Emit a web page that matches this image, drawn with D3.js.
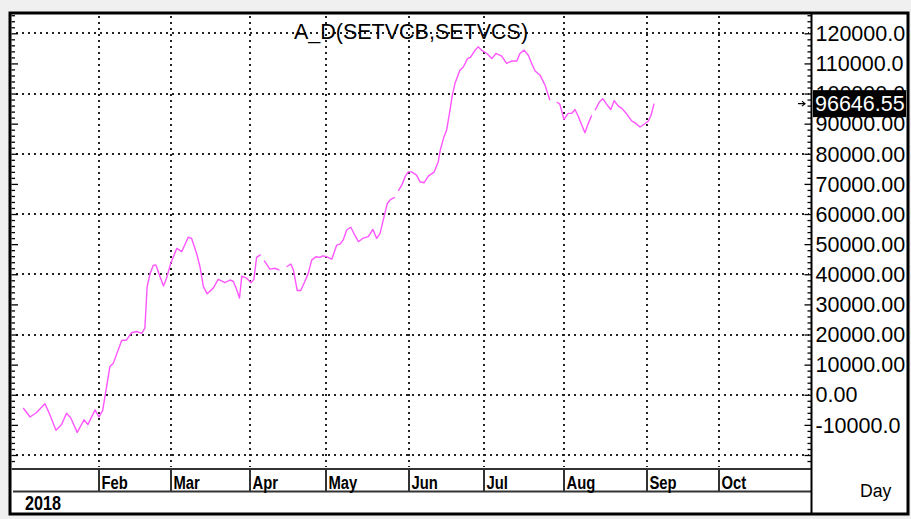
<!DOCTYPE html>
<html><head><meta charset="utf-8">
<script src="https://cdn.jsdelivr.net/npm/d3@7"></script>
<style>
html,body{margin:0;padding:0;background:#f0f0f0;}
svg{display:block;font-family:"Liberation Sans",Arial,sans-serif;}
</style></head><body>
<svg id="chart" width="911" height="519"></svg>
<script>
// ---------- data ----------
const chartTitle = "A_D(SETVCB,SETVCS)";
// trading-session index (from first visible session) and A/D values; null = gap in the line
const sessions = [2.7,4.5,6.2,8.4,9.7,11.3,12.8,14.1,15.2,16.9,18.7,19.7,21.6,22.6,23.6,24.5,25.5,26.4,28.6,29.9,
  31.2,32.6,33.9,34.7,35.3,36.1,36.9,37.6,38.7,39.6,40.4,41.5,43.1,44.4,46.1,47.0,48.3,49.2,50.1,51.1,
  52.7,54.0,55.8,57.1,58.0,58.9,59.6,60.2,61.5,62.6,63.4,64.1,65.2,65.6,66.1,67.6,68.9,70.1,71.0,72.0,
  73.1,73.8,74.8,75.7,76.8,77.7,78.6,79.7,80.8,81.5,82.6,83.9,85.2,86.1,86.9,87.8,88.9,89.7,90.9,92.0,
  93.5,94.7,95.7,96.6,97.6,98.5,99.4,100.5,101.0,101.4,102.3,103.2,104.0,104.9,106.2,107.1,108.2,109.3,110.8,111.9,
  112.4,113.4,114.1,115.0,115.6,116.3,117.6,118.5,119.6,120.4,121.6,122.4,123.3,124.7,126.0,127.1,128.6,129.9,131.2,132.6,
  133.4,134.5,135.6,136.5,137.4,138.7,140.0,141.3,142.2,143.1,143.9,145.0,146.1,147.0,147.9,148.8,149.7,150.5,151.4,152.3,
  152.8,153.2,154.3,155.2,156.2,157.3,158.2,159.3,160.3,161.4,162.8,163.9,165.0,166.1,167.2,167.9,168.7];
const adValues = [-4400,-7400,-5900,-3000,-6600,-11800,-9900,-6100,-7700,-12500,-8300,-9900,-5000,-7400,-5200,1700,9400,10500,18000,18200,
  20600,21000,20400,22100,35900,40300,42900,43100,39200,36100,38700,43600,48600,47500,52300,51900,47000,42500,35900,33500,
  35400,38300,37200,38100,37600,34800,32100,39400,38700,37200,38300,45600,46500,null,44500,41700,42000,41400,null,42500,
  43400,41400,34600,34600,37600,40300,44700,45800,45600,46100,45800,45000,49700,50100,51400,54700,55600,53600,50800,51900,
  52500,54900,51900,53600,58900,63500,64900,65500,null,67700,69600,72400,74000,74000,72900,70700,70400,72600,73900,77300,
  81000,85600,87800,94500,99400,103300,107700,108800,111600,112000,114400,115500,114400,113300,111600,113300,112400,110000,110800,110800,
  113300,114400,112700,110000,107500,106100,102800,97800,null,97200,96500,91400,93400,93400,94700,92300,89500,87000,90100,92800,
  null,94500,97200,98300,96500,94700,97600,95800,95000,93400,90900,90100,88900,89800,90900,92800,96646.55];
const lastValue = 96646.55;
const lastLabel = "96646.55";
const monthNames = ["Feb","Mar","Apr","May","Jun","Jul","Aug","Sep","Oct"];
const monthSessions = [22.6,41.6,62.4,82.4,104.2,123.9,145.0,166.8,185.8];
const yearLabel = "2018";
const periodLabel = "Day";
const yLabelValues = [120000,110000,100000,90000,80000,70000,60000,50000,40000,30000,20000,10000,0,-10000];
const yLabelTexts = ["120000.0","110000.0","100000.0","90000.00","80000.00","70000.00","60000.00","50000.00","40000.00","30000.00","20000.00","10000.00","0.00","-10000.0"];
const yGridValues = [120000,100000,80000,60000,40000,20000,0,-20000];

// ---------- layout ----------
const plotL = 12, plotR = 811, plotT = 13, plotB = 468;
const svg = d3.select("#chart");

const x = d3.scaleLinear().domain([0, 210]).range([13, 811]);
const y = d3.scaleLinear().domain([-20000, 120000]).range([455, 33.3]);

// frame
svg.append("rect").attr("x",10).attr("y",13).attr("width",898).attr("height",501)
  .attr("fill","#fff").attr("stroke","#000").attr("stroke-width",3);

// grid
const grid = svg.append("g").attr("stroke","#222").attr("stroke-width",2)
  .attr("stroke-dasharray","2,4").attr("shape-rendering","crispEdges");
grid.selectAll("line.h").data(yGridValues).join("line").attr("class","h")
  .attr("x1",16).attr("x2",plotR-2).attr("y1",d=>Math.round(y(d))).attr("y2",d=>Math.round(y(d)));
grid.selectAll("line.v").data(monthSessions).join("line").attr("class","v")
  .attr("x1",d=>Math.round(x(d))).attr("x2",d=>Math.round(x(d))).attr("y1",plotT+3).attr("y2",plotB-1);

// minor/major ticks on both y edges
const minor = d3.range(-22000, 126001, 2000).filter(v => v % 10000 !== 0);
const major = d3.range(-20000, 126001, 10000);
function tickAxis(gen, tx, vals, size){
  const g = svg.append("g").attr("transform",`translate(${tx},0)`)
    .call(gen(y).tickValues(vals).tickSize(size).tickFormat(""));
  g.select(".domain").remove();
  g.selectAll("line").attr("stroke","#000").attr("stroke-width",1.3);
}
tickAxis(d3.axisRight, 11.5, minor, 3.5);
tickAxis(d3.axisRight, 11.5, major, 6.5);
tickAxis(d3.axisLeft, 811, minor, 3.5);
tickAxis(d3.axisLeft, 811, major, 6.5);

// bottom band lines
svg.append("line").attr("x1",11.5).attr("x2",811).attr("y1",469).attr("y2",469)
  .attr("stroke","#333").attr("stroke-width",2);
svg.append("line").attr("x1",13).attr("x2",811).attr("y1",491.5).attr("y2",491.5)
  .attr("stroke","#333").attr("stroke-width",2);
svg.append("g").selectAll("line").data(monthSessions).join("line")
  .attr("x1",d=>Math.round(x(d))).attr("x2",d=>Math.round(x(d))).attr("y1",469).attr("y2",491)
  .attr("stroke","#333").attr("stroke-width",2);
// right axis line
svg.append("line").attr("x1",811.5).attr("x2",811.5).attr("y1",12).attr("y2",514)
  .attr("stroke","#000").attr("stroke-width",2);

// month labels
svg.append("g").selectAll("text").data(monthNames).join("text")
  .attr("transform",(d,i)=>`translate(${Math.round(x(monthSessions[i]))+2.5},488.5) scale(0.78,1)`)
  .attr("font-size",19).attr("font-weight","bold").attr("fill","#000").text(d=>d);
svg.append("text").attr("transform","translate(25,510) scale(0.79,1)")
  .attr("font-size",20.5).attr("font-weight","bold").attr("fill","#000").text(yearLabel);
svg.append("text").attr("transform","translate(860,497) scale(0.93,1)")
  .attr("font-size",19).attr("fill","#000").text(periodLabel);

// y labels
svg.append("g").selectAll("text").data(yLabelValues).join("text")
  .attr("x",815.5).attr("y",d=>y(d)).attr("dy","0.36em")
  .attr("font-size",21.5).attr("fill","#000").text((d,i)=>yLabelTexts[i]);

// title
svg.append("text").attr("x",411).attr("y",38.5).attr("text-anchor","middle")
  .attr("font-size",21.5).attr("fill","#000").text(chartTitle);

// data line
const pts = sessions.map((s,i)=>({s, v: adValues[i]}));
const line = d3.line().defined(d=>d.v!==null).x(d=>x(d.s)).y(d=>y(d.v));
svg.append("path").datum(pts).attr("d",line).attr("fill","none")
  .attr("stroke","#ff55ff").attr("stroke-width",1.4).attr("stroke-linejoin","round");

// last value marker
const yl = y(lastValue);
svg.append("path").attr("d",`M${798},${yl}H${805}M${802},${yl-2.5}L${805},${yl}L${802},${yl+2.5}`)
  .attr("fill","none").attr("stroke","#000").attr("stroke-width",1.2);
svg.append("rect").attr("x",813).attr("y",yl-13.5).attr("width",93).attr("height",27).attr("fill","#000");
svg.append("text").attr("x",815).attr("y",yl).attr("dy","0.36em")
  .attr("font-size",21.5).attr("fill","#fff").text(lastLabel);
</script>
</body></html>
